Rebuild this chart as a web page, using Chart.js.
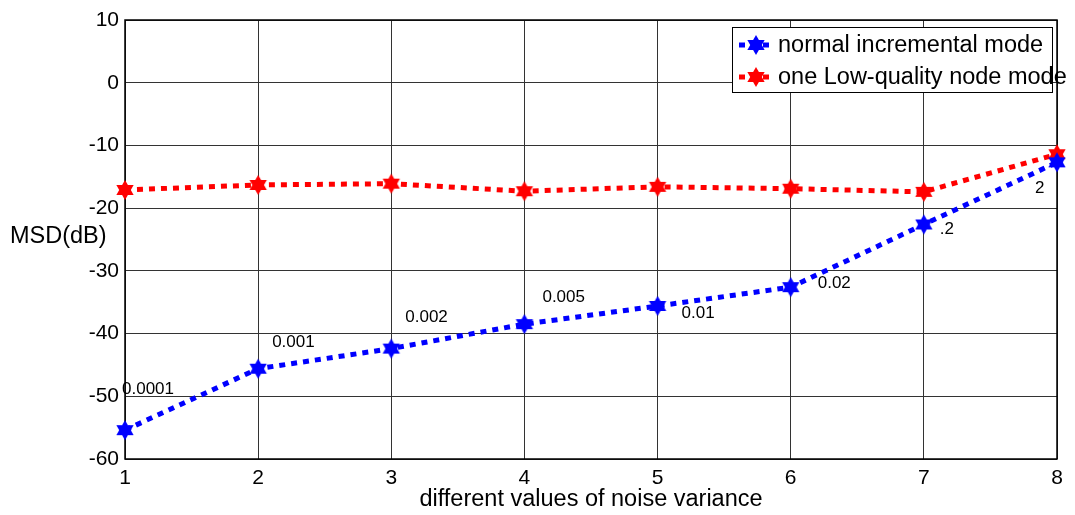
<!DOCTYPE html>
<html>
<head>
<meta charset="utf-8">
<script src="https://cdn.jsdelivr.net/npm/chart.js@4/dist/chart.umd.min.js"></script>
<style>
  html, body { margin: 0; padding: 0; background: #fff; }
  canvas { display: block; }
</style>
</head>
<body>
<canvas id="graph" width="1075" height="515"></canvas>
<script>
// noise variance index (x axis)
var steps = [1, 2, 3, 4, 5, 6, 7, 8];
// MSD in dB
var normalMode = [-55.4, -45.6, -42.4, -38.5, -35.6, -32.6, -22.6, -12.7];
var lowQualityMode = [-17.1, -16.3, -16.1, -17.3, -16.6, -16.9, -17.4, -11.4];
// noise variance written next to each blue point
var varianceLabels = ['0.0001', '0.001', '0.002', '0.005', '0.01', '0.02', '.2', '2'];
// pixel offset of each label from its point (left edge, middle)
var labelOffsets = [[-3, -41], [14, -26], [14, -31], [18, -27], [24, 7], [27, -4], [16, 5], [-22, 26]];
var yTicks = [10, 0, -10, -20, -30, -40, -50, -60];

var FONT = 'Arial, "Liberation Sans", sans-serif';

// six pointed star marker, like matlab 'h'
function hexagram(color, r) {
    var c = document.createElement('canvas');
    var s = Math.ceil(r * 2 + 2);
    c.width = s; c.height = s;
    var g = c.getContext('2d');
    var cx = s / 2, cy = s / 2;
    g.fillStyle = color;
    for (var t = 0; t < 2; t++) {
        g.beginPath();
        for (var k = 0; k < 3; k++) {
            var a = -Math.PI / 2 + t * Math.PI + k * 2 * Math.PI / 3;
            var px = cx + r * Math.cos(a), py = cy + r * Math.sin(a);
            if (k == 0) g.moveTo(px, py); else g.lineTo(px, py);
        }
        g.closePath();
        g.fill();
    }
    return c;
}
var blueStar = hexagram('#0000ff', 10);
var redStar = hexagram('#ff0000', 10);

function toPoints(arr) {
    return steps.map(function (x, i) { return { x: x, y: arr[i] }; });
}

// labels, axis titles, box and legend
var extras = {
    id: 'extras',
    beforeDatasetsDraw: function (chart) {
        var ctx = chart.ctx;
        var a = chart.chartArea;
        ctx.save();
        ctx.strokeStyle = '#000';
        ctx.lineWidth = 1.5;
        ctx.strokeRect(a.left, a.top, a.right - a.left, a.bottom - a.top);
        ctx.restore();
    },
    afterDraw: function (chart) {
        var ctx = chart.ctx;
        var a = chart.chartArea;
        var xs = chart.scales.x, ys = chart.scales.y;
        ctx.save();

        // variance labels
        ctx.fillStyle = '#000';
        ctx.font = '17px ' + FONT;
        ctx.textAlign = 'left';
        ctx.textBaseline = 'middle';
        varianceLabels.forEach(function (txt, i) {
            var px = xs.getPixelForValue(steps[i]);
            var py = ys.getPixelForValue(normalMode[i]);
            ctx.fillText(txt, px + labelOffsets[i][0], py + labelOffsets[i][1]);
        });

        // axis titles
        ctx.font = '23.5px ' + FONT;
        ctx.textAlign = 'center';
        ctx.fillText('different values of noise variance', (a.left + a.right) / 2, 500);
        ctx.textAlign = 'left';
        ctx.fillText('MSD(dB)', 10, 237);

        // legend
        var lx = 732, ly = 27, lw = 320, lh = 65;
        ctx.fillStyle = '#fff';
        ctx.fillRect(lx, ly, lw, lh);
        ctx.strokeStyle = '#000';
        ctx.lineWidth = 1;
        ctx.strokeRect(lx + 0.5, ly + 0.5, lw, lh);
        var rows = [45, 77];
        chart.data.datasets.forEach(function (ds, i) {
            var ry = rows[i];
            ctx.strokeStyle = ds.borderColor;
            ctx.lineWidth = ds.borderWidth;
            ctx.setLineDash(ds.borderDash);
            ctx.beginPath();
            ctx.moveTo(739, ry);
            ctx.lineTo(775, ry);
            ctx.stroke();
            ctx.setLineDash([]);
            var img = ds.pointStyle;
            ctx.drawImage(img, 756 - img.width / 2, ry - img.height / 2);
            ctx.fillStyle = '#000';
            ctx.font = '23.5px ' + FONT;
            ctx.textAlign = 'left';
            ctx.textBaseline = 'middle';
            ctx.fillText(ds.label, 778, ry + 1);
        });
        ctx.restore();
    }
};

new Chart(document.getElementById('graph'), {
    type: 'line',
    data: {
        datasets: [{
            label: 'normal incremental mode',
            data: toPoints(normalMode),
            borderColor: '#0000ff',
            backgroundColor: '#0000ff',
            borderWidth: 5,
            borderDash: [6, 6],
            pointStyle: blueStar,
            tension: 0,
            clip: false
        }, {
            label: 'one Low-quality node mode',
            data: toPoints(lowQualityMode),
            borderColor: '#ff0000',
            backgroundColor: '#ff0000',
            borderWidth: 5,
            borderDash: [6, 6],
            pointStyle: redStar,
            tension: 0,
            clip: false
        }]
    },
    options: {
        responsive: false,
        animation: false,
        devicePixelRatio: 1,
        layout: { padding: { top: 20, right: 18, left: 0, bottom: 0 } },
        plugins: { legend: { display: false }, tooltip: { enabled: false } },
        scales: {
            x: {
                type: 'linear',
                min: 1, max: 8,
                afterFit: function (s) { s.height = 56; },
                ticks: { stepSize: 1, color: '#000', padding: 7, font: { family: FONT, size: 21 } },
                grid: { color: '#333', lineWidth: 1, drawTicks: false },
                border: { display: false }
            },
            y: {
                min: -60, max: 10,
                afterFit: function (s) { s.width = 125; },
                afterBuildTicks: function (s) { s.ticks = yTicks.map(function (v) { return { value: v }; }); },
                ticks: { color: '#000', padding: 6, font: { family: FONT, size: 21 } },
                grid: { color: '#333', lineWidth: 1, drawTicks: false },
                border: { display: false }
            }
        }
    },
    plugins: [extras]
});
</script>
</body>
</html>
